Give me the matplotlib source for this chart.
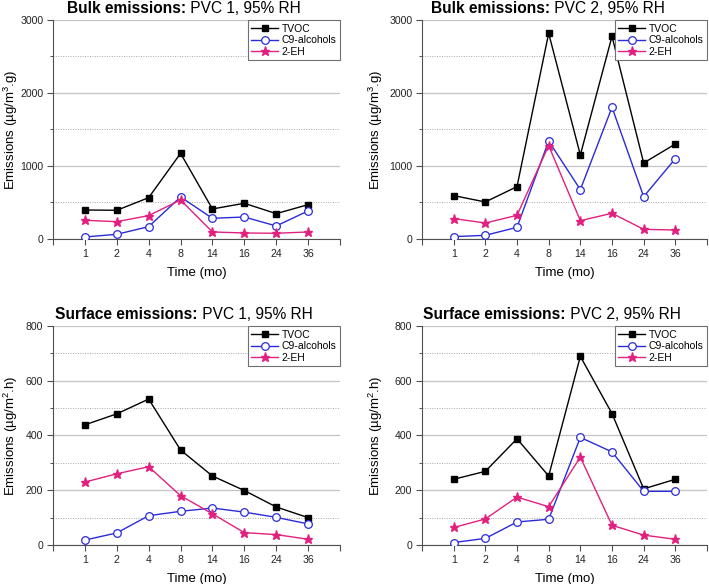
import matplotlib
matplotlib.use("Agg")
import matplotlib.pyplot as plt
from matplotlib.ticker import MultipleLocator

plt.rcParams['font.family'] = ['Liberation Sans', 'DejaVu Sans']
plt.rcParams['mathtext.default'] = 'regular'

# sampling times (months), shown as evenly spaced categories
times = ['1', '2', '4', '8', '14', '16', '24', '36']

# Bulk emissions (ug/m3.g)
bulk1_tvoc = [397, 393, 566, 1173, 411, 489, 347, 470]
bulk1_c9 = [27, 64, 169, 575, 283, 301, 178, 384]
bulk1_2eh = [256, 237, 320, 534, 96, 82, 78, 96]

bulk2_tvoc = [594, 507, 717, 2817, 1151, 2776, 1041, 1301]
bulk2_c9 = [32, 50, 160, 1342, 676, 1804, 580, 1100]
bulk2_2eh = [279, 219, 324, 1279, 251, 352, 132, 123]

# Surface emissions (ug/m2.h)
surf1_tvoc = [439, 479, 533, 347, 252, 199, 139, 100]
surf1_c9 = [18, 44, 107, 123, 135, 120, 101, 77]
surf1_2eh = [230, 260, 286, 180, 114, 45, 38, 21]

surf2_tvoc = [240, 269, 388, 252, 689, 480, 205, 240]
surf2_c9 = [9, 24, 84, 94, 393, 340, 196, 196]
surf2_2eh = [64, 95, 175, 140, 321, 72, 36, 21]

BLUE = '#2b2bd9'
PINK = '#e2207f'
SPINE = '#505050'

panels = [
    # (axes rect, bold title, rest, ylabel, ymax, major, series, title x, ylabel x)
    ([0.0748, 0.5908, 0.4047, 0.375], 'Bulk emissions:', ' PVC 1, 95% RH',
     'Emissions (µg/m$^{3}$.g)', 3000, 1000, (bulk1_tvoc, bulk1_c9, bulk1_2eh), 0.049, -0.115),
    ([0.5952, 0.5908, 0.4020, 0.375], 'Bulk emissions:', ' PVC 2, 95% RH',
     'Emissions (µg/m$^{3}$.g)', 3000, 1000, (bulk2_tvoc, bulk2_c9, bulk2_2eh), 0.031, -0.13),
    ([0.0748, 0.0668, 0.4047, 0.375], 'Surface emissions:', ' PVC 1, 95% RH',
     'Emissions (µg/m$^{2}$.h)', 800, 200, (surf1_tvoc, surf1_c9, surf1_2eh), 0.007, -0.115),
    ([0.5952, 0.0668, 0.4020, 0.375], 'Surface emissions:', ' PVC 2, 95% RH',
     'Emissions (µg/m$^{2}$.h)', 800, 200, (surf2_tvoc, surf2_c9, surf2_2eh), 0.004, -0.13),
]

fig = plt.figure(figsize=(7.09, 5.84), dpi=100)

for rect, tbold, trest, ylab, ymax, major, (tvoc, c9, eh), tx, ylx in panels:
    ax = fig.add_axes(rect)
    xs = list(range(1, len(times) + 1))

    ax.plot(xs, tvoc, color='black', lw=1.0, marker='s', ms=5,
            label='TVOC', zorder=3)
    ax.plot(xs, c9, color=BLUE, lw=1.0, marker='o', ms=5.5,
            mfc='white', mec=BLUE, mew=0.9, label='C9-alcohols', zorder=3)
    ax.plot(xs, eh, color=PINK, lw=1.0, marker='*', ms=6.5,
            mec=PINK, label='2-EH', zorder=3)

    ax.set_xlim(0, len(times) + 1)
    ax.set_ylim(0, ymax)
    ax.set_xticks(range(0, len(times) + 2))
    ax.set_xticklabels([''] + times + [''])
    ax.yaxis.set_major_locator(MultipleLocator(major))
    ax.yaxis.set_minor_locator(MultipleLocator(major / 2))

    ax.grid(axis='y', which='major', color='#c4c4c4', lw=0.9, ls='-')
    ax.grid(axis='y', which='minor', color='#a8a8a8', lw=0.7, ls=(0, (1, 1.5)))
    ax.set_axisbelow(True)

    for s in ['top', 'right']:
        ax.spines[s].set_visible(False)
    for s in ['left', 'bottom']:
        ax.spines[s].set_color(SPINE)
        ax.spines[s].set_linewidth(0.8)

    ax.tick_params(axis='both', which='major', length=4, width=0.8,
                   color=SPINE, labelsize=7.6, labelcolor='#222222', pad=3)
    ax.tick_params(axis='y', which='minor', length=2.5, width=0.7, color=SPINE)

    ax.set_xlabel('Time (mo)', fontsize=9.5, labelpad=6)
    ax.set_ylabel(ylab, fontsize=9.5)
    ax.yaxis.set_label_coords(ylx, 0.5)

    t1 = ax.text(tx, 1.03, tbold, transform=ax.transAxes, fontsize=11.2,
                 fontweight='bold', ha='left', va='baseline')
    ax.annotate(trest, xy=(1, 0), xycoords=t1, fontsize=11.2,
                ha='left', va='bottom')

    leg = ax.legend(loc='upper right', bbox_to_anchor=(1.0, 1.0),
                    borderaxespad=0, fontsize=7.5, handlelength=2.6,
                    handletextpad=0.3, labelspacing=0.15, borderpad=0.35,
                    fancybox=False, framealpha=1, edgecolor='#707070')
    leg.get_frame().set_linewidth(0.8)

fig.savefig('out.png', dpi=100)
